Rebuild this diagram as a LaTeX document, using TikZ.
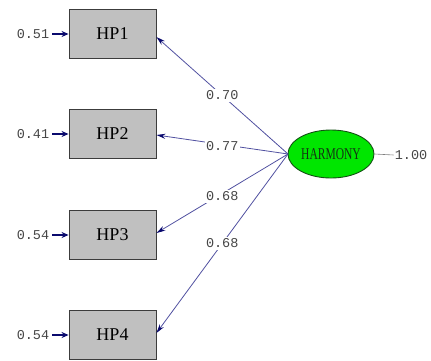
\documentclass[tikz,border=0pt]{standalone}
\usepackage{fontspec}
\setmainfont{Liberation Serif}
\newfontfamily\numfont{Liberation Mono}
\usetikzlibrary{arrows.meta,shapes.geometric}
\definecolor{boxgray}{RGB}{192,192,192}
\definecolor{boxedge}{RGB}{60,60,60}
\definecolor{pathblue}{RGB}{80,80,160}
\definecolor{tipnavy}{RGB}{10,10,110}
\definecolor{numgray}{RGB}{70,70,70}
\definecolor{latgreen}{RGB}{0,230,0}
\definecolor{latedge}{RGB}{20,80,20}
\definecolor{lattext}{RGB}{20,50,20}
\tikzset{
  obsbox/.style={draw=boxedge, fill=boxgray, line width=0.9pt, minimum width=87pt, minimum height=49pt, inner sep=0pt, font=\fontsize{18}{18}\selectfont},
  latent/.style={draw=latedge, fill=latgreen, ellipse, line width=0.9pt, minimum width=86pt, minimum height=48pt, inner sep=0pt, text=lattext},
  numlab/.style={font=\numfont\fontsize{13.5}{14}\selectfont, text=numgray, inner sep=1pt},
  pathlab/.style={numlab, fill=white, inner sep=1.5pt},
  loadarrow/.style={draw=pathblue, line width=0.8pt, -{Stealth[length=9pt,width=5pt,color=tipnavy,fill=tipnavy]}},
  errarrow/.style={draw=tipnavy, line width=1.1pt, shorten <=2pt, -{Stealth[length=7pt,width=6pt,color=tipnavy,fill=tipnavy]}},
}
\begin{document}
\begin{tikzpicture}[x=1pt,y=-1pt]
\useasboundingbox (0,0) rectangle (431,360);
\node[obsbox] (HP1) at (112.5,34) {HP1};
\node[obsbox] (HP2) at (112.5,134) {HP2};
\node[obsbox] (HP3) at (112.5,235) {HP3};
\node[obsbox] (HP4) at (112.5,335) {HP4};
\node[latent] (H) at (331,154) {\fontsize{16.5}{16.5}\selectfont\scalebox{0.7}[1]{HARMONY}};
\coordinate (src) at (288,154);
\node[numlab] (e1) at (33,34) {0.51};
\node[numlab] (e2) at (33,134) {0.41};
\node[numlab] (e3) at (33,235) {0.54};
\node[numlab] (e4) at (33,335) {0.54};
\draw[errarrow] (e1) -- (HP1);
\draw[errarrow] (e2) -- (HP2);
\draw[errarrow] (e3) -- (HP3);
\draw[errarrow] (e4) -- (HP4);
\draw[loadarrow] (src) -- node[pathlab, pos=0.5] {0.70} ([yshift=-3pt]HP1.east);
\draw[loadarrow] (src) -- node[pathlab, pos=0.5, yshift=-2pt] {0.77} ([yshift=-1pt]HP2.east);
\draw[loadarrow] (src) -- node[pathlab, pos=0.5, yshift=-3pt] {0.68} ([yshift=2pt]HP3.east);
\draw[loadarrow] (src) -- node[pathlab, pos=0.5] {0.68} ([yshift=2pt]HP4.east);
\node[numlab] (v) at (411,155) {1.00};
\draw[draw=gray, line width=0.6pt] (H.east) -- (v.west);
\end{tikzpicture}
\end{document}
